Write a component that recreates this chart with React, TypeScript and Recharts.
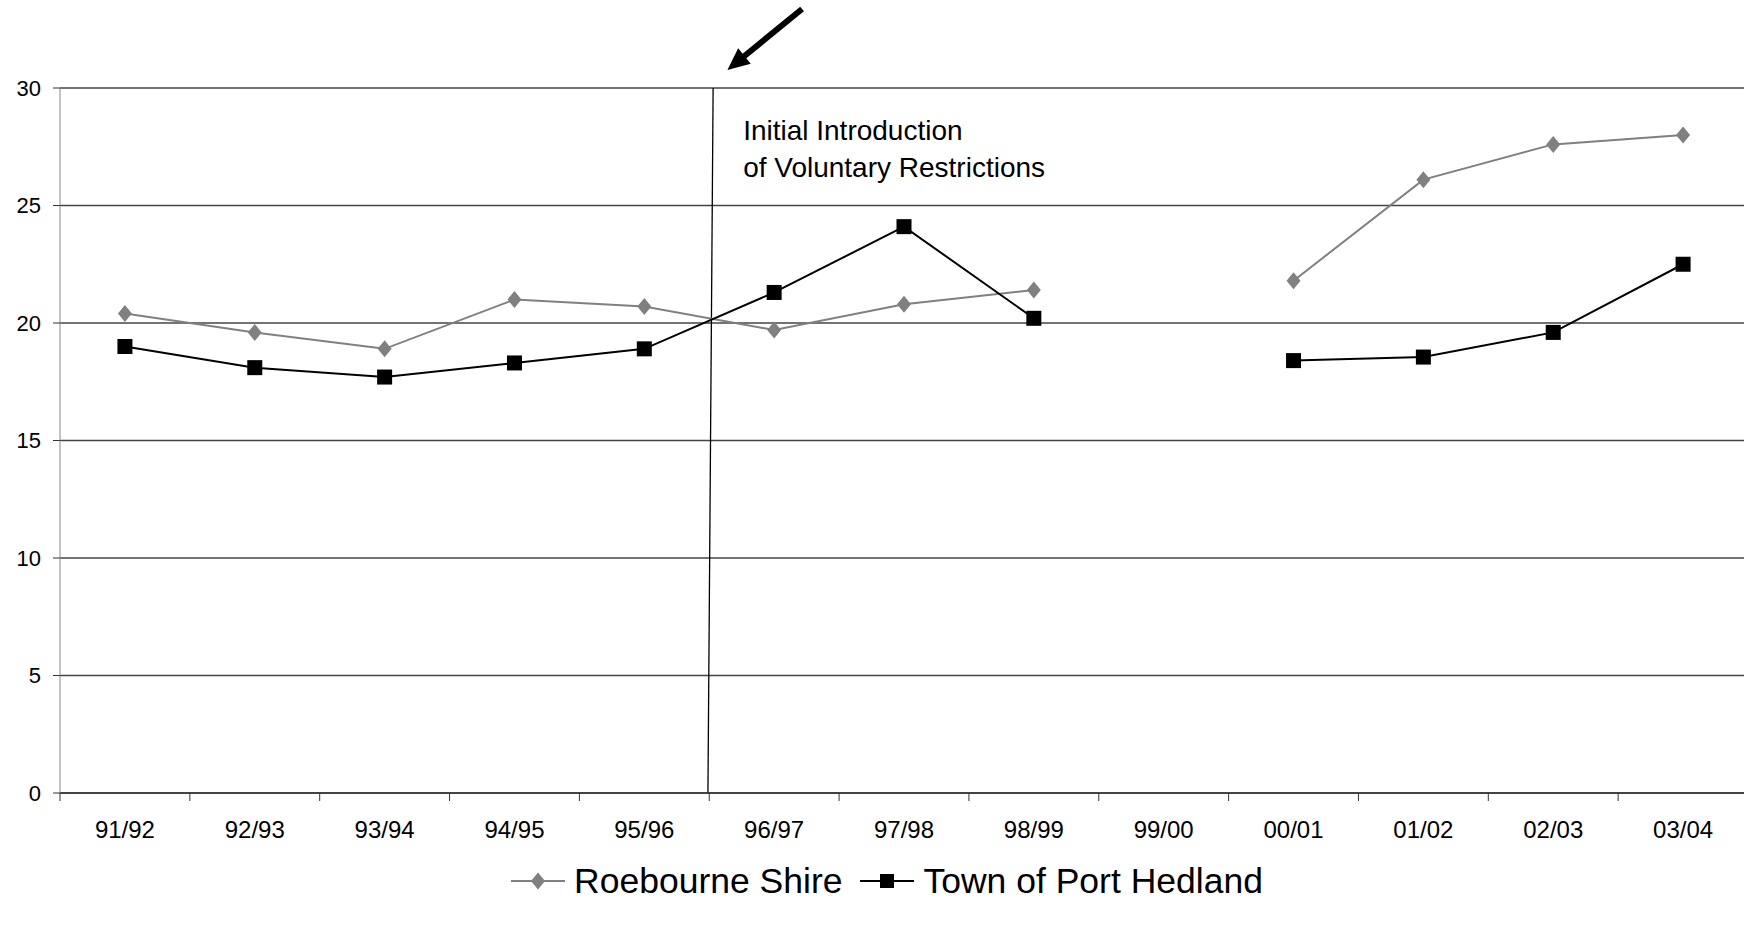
import React from "react"
import {
  LineChart,
  Line,
  XAxis,
  YAxis,
  CartesianGrid,
  Legend,
  ReferenceLine,
} from "recharts"

const FONT = "'Liberation Sans', Arial, sans-serif"

const years = [
  "91/92", "92/93", "93/94", "94/95", "95/96", "96/97", "97/98",
  "98/99", "99/00", "00/01", "01/02", "02/03", "03/04",
]
const roebourne = [20.4, 19.6, 18.9, 21.0, 20.7, 19.7, 20.8, 21.4, null, 21.8, 26.1, 27.6, 28.0]
const portHedland = [19.0, 18.1, 17.7, 18.3, 18.9, 21.3, 24.1, 20.2, null, 18.4, 18.55, 19.6, 22.5]
const yTicks = [0, 5, 10, 15, 20, 25, 30]

// restriction marker, arrow (in axis units)
const restrictLine = [{ x: 4.99, y: 0 }, { x: 5.03, y: 30 }]
const arrowLine = [{ x: 5.715, y: 33.36 }, { x: 5.14, y: 30.77 }]
const noteLines = ["Initial Introduction", "of Voluntary Restrictions"]

const data = years.map((year, i) => ({
  x: i + 0.5,
  year,
  roe: roebourne[i],
  port: portHedland[i],
}))

// boundary ticks at integers, labels at band centres
const xTicks: number[] = []
for (let i = 0; i <= years.length; i++) {
  xTicks.push(i)
  if (i < years.length) xTicks.push(i + 0.5)
}

const XTick = (props: any) => {
  const { x, y, payload } = props
  const v = payload.value
  if (Number.isInteger(v)) {
    return <line x1={x} y1={y} x2={x} y2={y + 8} stroke="#333" strokeWidth={1} />
  }
  return (
    <text x={x} y={y + 45} textAnchor="middle" fontFamily={FONT} fontSize={24} fill="#000">
      {years[Math.floor(v)]}
    </text>
  )
}

const Diamond = (props: any) => {
  const { cx, cy, index } = props
  if (cx == null || cy == null) return <g key={`rd-${index}`} />
  return (
    <polygon
      key={`rd-${index}`}
      points={`${cx},${cy - 8.5} ${cx + 7},${cy} ${cx},${cy + 8.5} ${cx - 7},${cy}`}
      fill="#808080"
    />
  )
}

const Square = (props: any) => {
  const { cx, cy, index } = props
  if (cx == null || cy == null) return <g key={`ps-${index}`} />
  return <rect key={`ps-${index}`} x={cx - 7.5} y={cy - 7.5} width={15} height={15} fill="#000" />
}

const RestrictShape = (props: any) => {
  const { x1, y1, x2, y2 } = props
  const topX = y1 < y2 ? x1 : x2
  const topY = Math.min(y1, y2)
  return (
    <g>
      <line x1={x1} y1={y1} x2={x2} y2={y2} stroke="#000" strokeWidth={1.3} />
      {noteLines.map((t, i) => (
        <text
          key={t}
          x={topX + 30}
          y={topY + 52 + i * 37}
          fontFamily={FONT}
          fontSize={28}
          fill="#000"
        >
          {t}
        </text>
      ))}
    </g>
  )
}

const ArrowShape = (props: any) => {
  const { x1, y1, x2, y2 } = props
  const dx = x2 - x1
  const dy = y2 - y1
  const len = Math.hypot(dx, dy) || 1
  const ux = dx / len
  const uy = dy / len
  const head = 22
  const hw = 10
  const bx = x2 - ux * head
  const by = y2 - uy * head
  return (
    <g>
      <line x1={x1} y1={y1} x2={bx + ux * 2} y2={by + uy * 2} stroke="#000" strokeWidth={6} />
      <polygon
        points={`${x2},${y2} ${bx - uy * hw},${by + ux * hw} ${bx + uy * hw},${by - ux * hw}`}
        fill="#000"
      />
    </g>
  )
}

const LegendContent = () => (
  <div
    style={{
      height: 50,
      display: "flex",
      justifyContent: "center",
      alignItems: "center",
      fontFamily: FONT,
      fontSize: 35.5,
      color: "#000",
      paddingLeft: 26,
    }}
  >
    <svg width={54} height={20} style={{ marginRight: 9 }}>
      <line x1={0} y1={10} x2={54} y2={10} stroke="#808080" strokeWidth={2} />
      <polygon points="27,1.5 34,10 27,18.5 20,10" fill="#808080" />
    </svg>
    <span style={{ marginRight: 18 }}>Roebourne Shire</span>
    <svg width={54} height={20} style={{ marginRight: 9 }}>
      <line x1={0} y1={10} x2={54} y2={10} stroke="#000" strokeWidth={2} />
      <rect x={20} y={3} width={14} height={14} fill="#000" />
    </svg>
    <span>Town of Port Hedland</span>
  </div>
)

export default function App() {
  return (
    <div style={{ position: "absolute", left: 0, top: 0, width: 1744, height: 930, overflow: "hidden", background: "#fff" }}>
      <LineChart
        width={1750}
        height={930}
        data={data}
        margin={{ top: 88, right: 2, left: 0, bottom: 24 }}
      >
        <CartesianGrid vertical={false} stroke="#444" strokeWidth={1.3} />
        <XAxis
          dataKey="x"
          type="number"
          domain={[0, 13]}
          ticks={xTicks}
          interval={0}
          tick={<XTick />}
          tickLine={false}
          tickSize={0}
          tickMargin={0}
          height={63}
          axisLine={{ stroke: "#333", strokeWidth: 1.3 }}
        />
        <YAxis
          domain={[0, 30]}
          ticks={yTicks}
          interval={0}
          width={60}
          tickSize={7}
          tickMargin={12}
          tick={{ fontFamily: FONT, fontSize: 22, fill: "#000" }}
          tickLine={{ stroke: "#333" }}
          axisLine={{ stroke: "#888" }}
        />
        <ReferenceLine segment={restrictLine} ifOverflow="visible" shape={RestrictShape} />
        <ReferenceLine segment={arrowLine} ifOverflow="visible" shape={ArrowShape} />
        <Line
          dataKey="roe"
          name="Roebourne Shire"
          stroke="#808080"
          strokeWidth={2}
          dot={Diamond}
          activeDot={false}
          isAnimationActive={false}
        />
        <Line
          dataKey="port"
          name="Town of Port Hedland"
          stroke="#000"
          strokeWidth={2}
          dot={Square}
          activeDot={false}
          isAnimationActive={false}
        />
        <Legend verticalAlign="bottom" height={50} content={<LegendContent />} />
      </LineChart>
    </div>
  )
}
